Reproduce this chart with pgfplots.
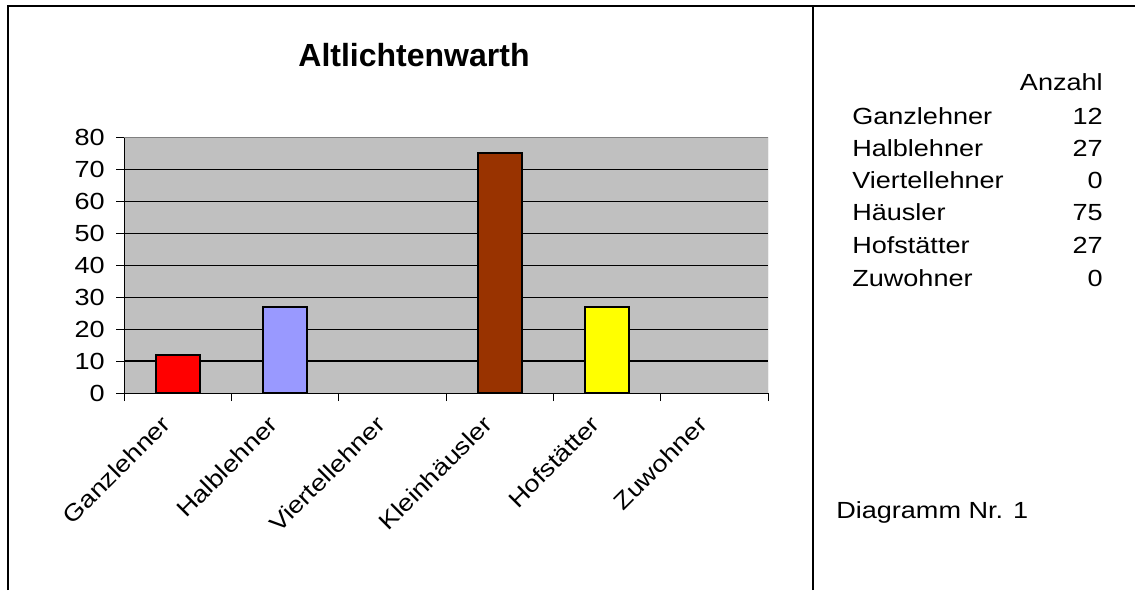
\documentclass[border=0pt]{standalone}
\usepackage{fontspec}
\setmainfont{Liberation Sans}[FakeStretch=1.16]
\newfontfamily\titlefont{Liberation Sans}
\usepackage{pgfplots}
\pgfplotsset{compat=1.18}
\definecolor{plotbg}{HTML}{C0C0C0}
\definecolor{lavender}{HTML}{9999FF}
\definecolor{brownbar}{HTML}{993300}
\definecolor{yellowbar}{HTML}{FFFF00}
\newcommand{\lbl}{\fontsize{17.5}{20}\selectfont}
\begin{document}
\begin{tikzpicture}[x=0.75pt,y=0.75pt]
\useasboundingbox (0,0) rectangle (1135,590);
% frame
\draw[line width=1.5pt] (8,0) -- (8,584) -- (1135,584);
\draw[line width=1.5pt] (813,0) -- (813,584);
% title
\node[font=\titlefont\bfseries\fontsize{24}{28}\selectfont, anchor=base, inner sep=0pt] at (414,523) {Altlichtenwarth};
% table on the right
\begin{scope}[every node/.style={font=\lbl, inner sep=0pt}]
\node[anchor=base east] at (1103,499) {Anzahl};
\foreach \name/\val/\y in {Ganzlehner/12/465, Halblehner/27/433, Viertellehner/0/401,
  Häusler/75/369, Hofstätter/27/336, Zuwohner/0/304} {
  \node[anchor=base west] at (852,\y) {\name};
  \node[anchor=base east] at (1103,\y) {\val};
}
\node[anchor=base west] at (836,72) {Diagramm Nr. 1};
\end{scope}

\begin{axis}[
  at={(93pt,147.75pt)}, anchor=south west,
  scale only axis, width=483pt, height=192pt,
  xmin=0, xmax=6, ymin=0, ymax=80,
  ybar, bar width=33pt,
  axis x line*=bottom, axis y line*=left,
  axis line style={black, line width=0.75pt, -},
  axis background/.style={fill=plotbg},
  tick align=outside, major tick length=6pt, minor tick length=6pt,
  tick style={black, line width=0.75pt},
  ytick={0,10,...,80},
  ymajorgrids, major grid style={black, line width=0.75pt},
  xtick={0.5,1.5,2.5,3.5,4.5,5.5},
  xticklabels={Ganzlehner,Halblehner,Viertellehner,Kleinhäusler,Hofstätter,Zuwohner},
  major x tick style={draw=none},
  minor xtick={0,1,...,6},
  xticklabel style={rotate=45, anchor=east, font=\lbl, xshift=-13pt, yshift=-4pt},
  yticklabel style={font=\lbl, xshift=-5pt},
  /pgf/number format/assume math mode=true,
]
\draw[black, line width=1.5pt] (axis cs:0,10) -- (axis cs:6,10);
\addplot[fill=red, draw=black, line width=1.5pt, bar shift=0pt] coordinates {(0.5,12)};
\addplot[fill=lavender, draw=black, line width=1.5pt, bar shift=0pt] coordinates {(1.5,27)};
\addplot[fill=brownbar, draw=black, line width=1.5pt, bar shift=0pt] coordinates {(3.5,75)};
\addplot[fill=yellowbar, draw=black, line width=1.5pt, bar shift=0pt] coordinates {(4.5,27)};
\draw[gray, line width=0.75pt] (axis cs:0,80) -- (axis cs:6,80) -- (axis cs:6,0);
\end{axis}
\end{tikzpicture}
\end{document}
